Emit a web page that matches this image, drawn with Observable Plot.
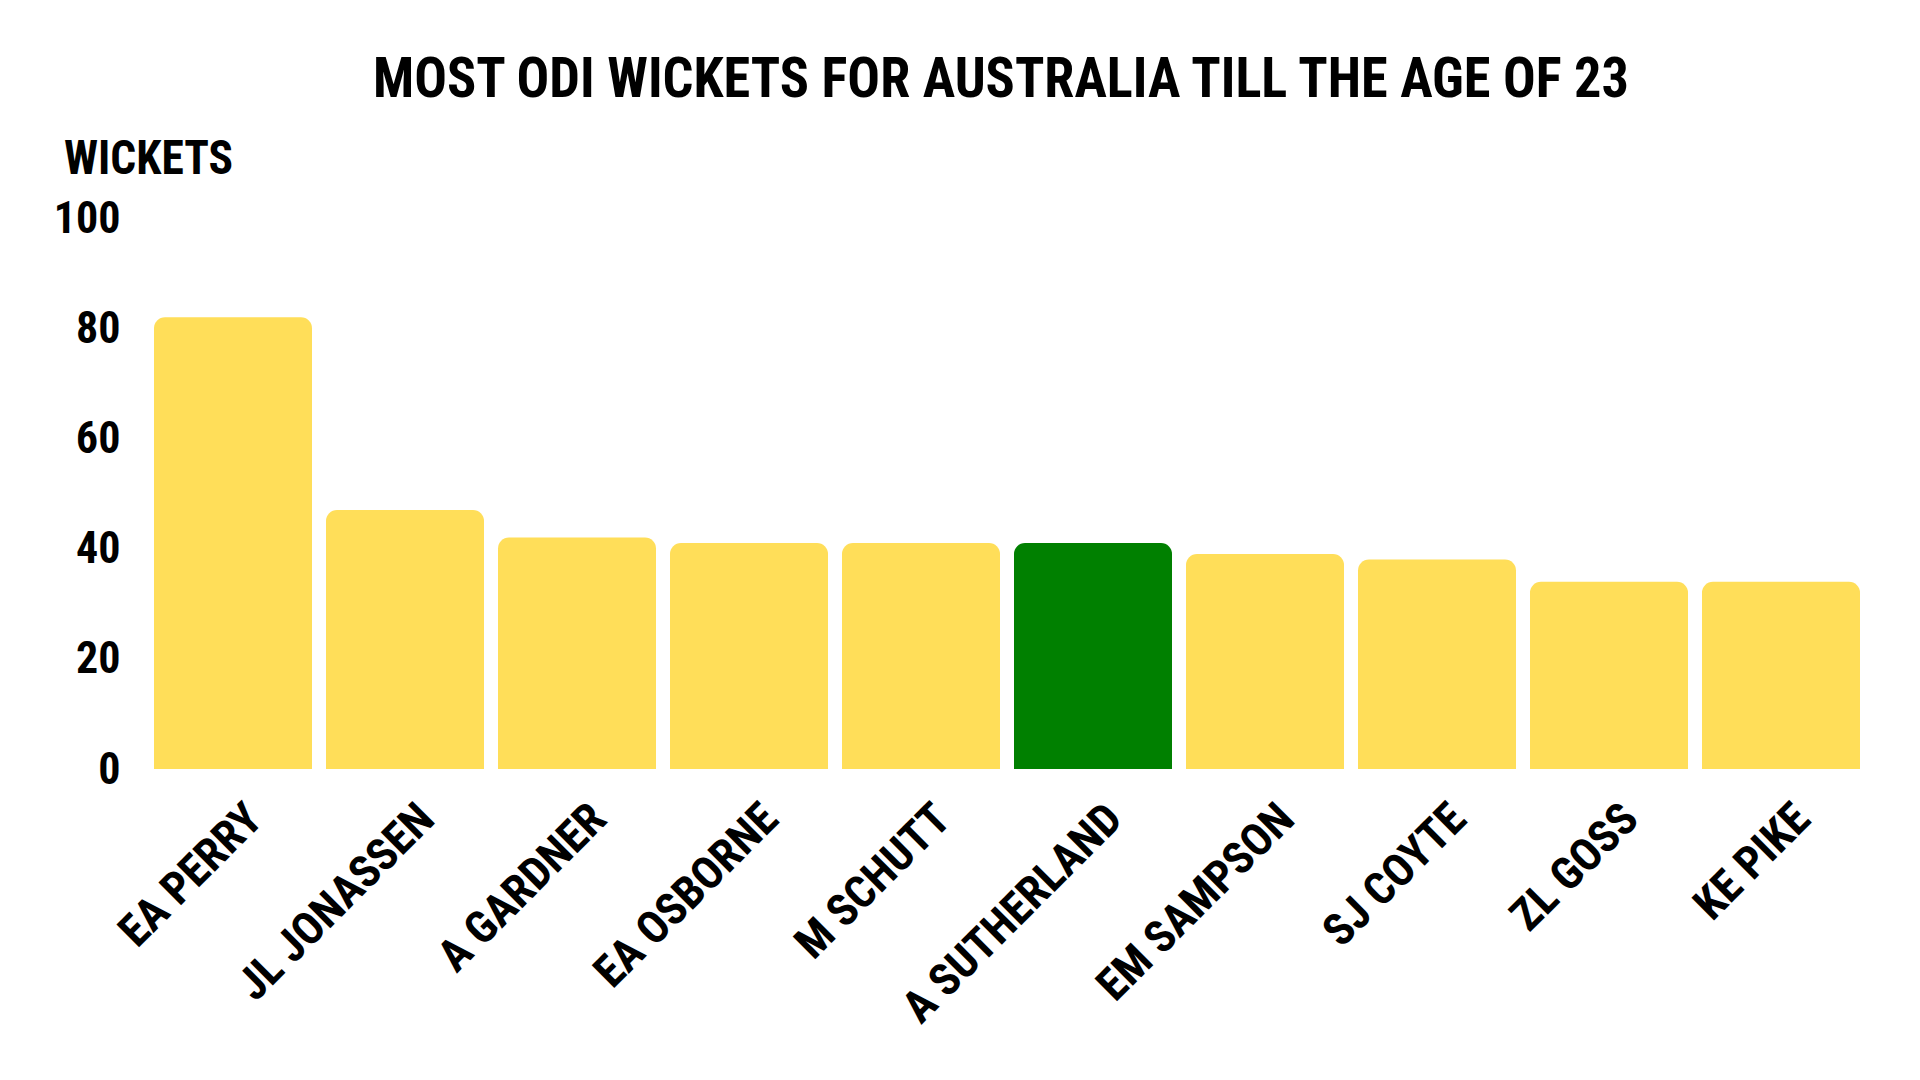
<!DOCTYPE html>
<html>
<head>
<meta charset="utf-8">
<script src="https://cdn.jsdelivr.net/npm/d3@7"></script>
<script src="https://cdn.jsdelivr.net/npm/@observablehq/plot@0.6"></script>
<style>
  body { margin: 0; background: #fff; }
  #wrap { position: relative; width: 1920px; height: 1080px; background: #fff; overflow: hidden;
          font-family: "Roboto Condensed", "DejaVu Sans Condensed", "Liberation Sans Narrow", "Roboto", sans-serif;
          font-stretch: condensed; font-weight: bold; color: #000; }
  #title { position: absolute; left: 1001px; top: 51px; font-size: 55px; line-height: 1; white-space: nowrap;
           transform-origin: 50% 50%; }
  #ylabel { position: absolute; left: 64px; top: 134px; font-size: 48px; line-height: 1; white-space: nowrap;
            transform-origin: 0 50%; z-index: 2; }
  #chart { position: absolute; left: 0; top: 110px; z-index: 1; }
  #chart svg text { font-stretch: condensed; }
</style>
</head>
<body>
<div id="wrap">
  <div id="title">MOST ODI WICKETS FOR AUSTRALIA TILL THE AGE OF 23</div>
  <div id="ylabel">WICKETS</div>
  <div id="chart"></div>
</div>
<script>
const players = ["EA PERRY", "JL JONASSEN", "A GARDNER", "EA OSBORNE", "M SCHUTT",
                 "A SUTHERLAND", "EM SAMPSON", "SJ COYTE", "ZL GOSS", "KE PIKE"];
const wickets = [82, 47, 42, 41, 41, 41, 39, 38, 34, 34];
const highlight = "A SUTHERLAND";
const yTicks = [0, 20, 40, 60, 80, 100];

const data = players.map((p, i) => ({player: p, wickets: wickets[i]}));
const font = '"Roboto Condensed", "DejaVu Sans Condensed", "Liberation Sans Narrow", "Roboto", sans-serif';

const chart = Plot.plot({
  width: 1920,
  height: 970,
  marginTop: 108,
  marginBottom: 311,
  marginLeft: 154,
  marginRight: 59,
  style: {fontFamily: font, fontWeight: "bold", color: "#000", background: "transparent", overflow: "visible"},
  x: {domain: players, paddingInner: 0.08, paddingOuter: 0, label: null},
  y: {domain: [0, 100], label: null},
  color: {domain: [false, true], range: ["#FFDE59", "#008000"]},
  marks: [
    Plot.barY(data, {
      x: "player", y: "wickets",
      fill: d => d.player === highlight,
      rx: 11, insetBottom: -14, clip: true
    }),
    Plot.axisY({ticks: yTicks, tickSize: 0, tickPadding: 34, fontSize: 44, fontWeight: "bold", label: null}),
    Plot.axisX({tickSize: 0, tickRotate: -45, tickPadding: 42, dx: 21, fontSize: 45, fontWeight: "bold", label: null})
  ]
});
document.getElementById("chart").appendChild(chart);

// fit title and axis label widths to the reference
function fit(el, target, extra) {
  const w = el.getBoundingClientRect().width;
  el.style.transform = (extra || "") + " scaleX(" + (target / w) + ")";
}
fit(document.getElementById("title"), 1256, "translateX(-50%)");
fit(document.getElementById("ylabel"), 169, "");
</script>
</body>
</html>
